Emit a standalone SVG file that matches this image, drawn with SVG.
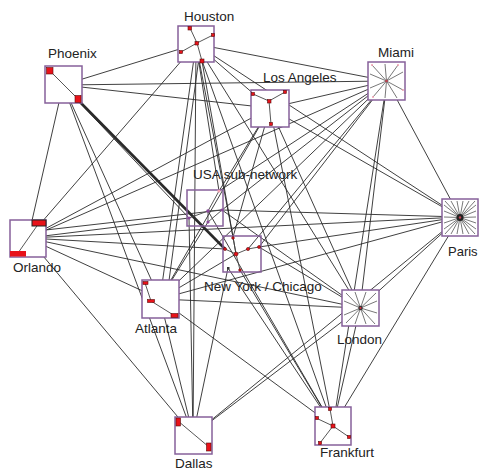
<svg xmlns="http://www.w3.org/2000/svg" width="480" height="472" viewBox="0 0 480 472">
<style>
.e{stroke:#2a2a2a;stroke-width:0.9;fill:none}
.tk{stroke:#2a2a2a;stroke-width:2.6;fill:none}
.box{fill:#fff;stroke:#86609a;stroke-width:1.5}
.open{fill:none;stroke:#86609a;stroke-width:1.5}
.in{stroke:#444;stroke-width:0.9;fill:none}
.ray{stroke:#555;stroke-width:0.8;fill:none}
.p{fill:#e8121a;stroke:#5a0a0a;stroke-width:0.6}
.pp{fill:#8a4a9a;stroke:none}
.pk{fill:#f0a0b0;stroke:none}
.lbl{font-family:"Liberation Sans",Arial,sans-serif;font-size:13.5px;fill:#222}
</style>
<rect width="480" height="472" fill="#fff"/>
<g id="edges">
<line class="e" x1="196" y1="44" x2="63" y2="85"/>
<line class="e" x1="196" y1="44" x2="387" y2="81"/>
<line class="e" x1="196" y1="44" x2="270" y2="108"/>
<line class="e" x1="196" y1="44" x2="28" y2="238"/>
<line class="e" x1="196" y1="44" x2="160" y2="299"/>
<line class="e" x1="200" y1="50" x2="166" y2="303"/>
<line class="e" x1="196" y1="44" x2="219" y2="191"/>
<line class="e" x1="196" y1="44" x2="233" y2="237"/>
<line class="e" x1="200" y1="50" x2="236" y2="254"/>
<line class="e" x1="196" y1="44" x2="360" y2="308"/>
<line class="e" x1="196" y1="44" x2="460" y2="217"/>
<line class="e" x1="196" y1="44" x2="333" y2="426"/>
<line class="e" x1="196" y1="44" x2="193" y2="435"/>
<line class="e" x1="63" y1="85" x2="387" y2="81"/>
<line class="e" x1="63" y1="85" x2="270" y2="108"/>
<line class="e" x1="63" y1="85" x2="28" y2="238"/>
<line class="e" x1="63" y1="85" x2="160" y2="299"/>
<line class="e" x1="63" y1="85" x2="193" y2="435"/>
<line class="tk" x1="78" y1="100" x2="225" y2="249"/>
<line class="e" x1="63" y1="85" x2="189" y2="218"/>
<line class="e" x1="387" y1="81" x2="270" y2="108"/>
<line class="e" x1="387" y1="81" x2="28" y2="238"/>
<line class="e" x1="387" y1="81" x2="219" y2="191"/>
<line class="e" x1="387" y1="81" x2="222" y2="210"/>
<line class="e" x1="387" y1="81" x2="259" y2="247"/>
<line class="e" x1="387" y1="81" x2="248" y2="249"/>
<line class="e" x1="387" y1="81" x2="160" y2="299"/>
<line class="e" x1="387" y1="81" x2="460" y2="217"/>
<line class="e" x1="387" y1="81" x2="360" y2="308"/>
<line class="e" x1="387" y1="81" x2="333" y2="426"/>
<line class="e" x1="270" y1="108" x2="28" y2="238"/>
<line class="e" x1="270" y1="108" x2="219" y2="191"/>
<line class="e" x1="270" y1="108" x2="160" y2="299"/>
<line class="e" x1="270" y1="108" x2="233" y2="237"/>
<line class="e" x1="270" y1="108" x2="360" y2="308"/>
<line class="e" x1="270" y1="108" x2="460" y2="217"/>
<line class="e" x1="270" y1="108" x2="333" y2="426"/>
<line class="e" x1="28" y1="238" x2="189" y2="218"/>
<line class="e" x1="28" y1="238" x2="225" y2="249"/>
<line class="e" x1="28" y1="238" x2="160" y2="299"/>
<line class="e" x1="28" y1="238" x2="360" y2="308"/>
<line class="e" x1="28" y1="238" x2="460" y2="217"/>
<line class="e" x1="28" y1="232" x2="222" y2="210"/>
<line class="e" x1="28" y1="238" x2="193" y2="435"/>
<line class="e" x1="460" y1="217" x2="222" y2="210"/>
<line class="e" x1="460" y1="217" x2="259" y2="247"/>
<line class="e" x1="460" y1="217" x2="160" y2="299"/>
<line class="e" x1="460" y1="217" x2="360" y2="308"/>
<line class="e" x1="460" y1="217" x2="333" y2="426"/>
<line class="e" x1="460" y1="217" x2="193" y2="435"/>
<line class="e" x1="208" y1="222" x2="160" y2="299"/>
<line class="e" x1="208" y1="211" x2="333" y2="426"/>
<line class="e" x1="222" y1="210" x2="360" y2="308"/>
<line class="e" x1="189" y1="218" x2="193" y2="435"/>
<line class="e" x1="236" y1="254" x2="160" y2="299"/>
<line class="e" x1="259" y1="247" x2="360" y2="308"/>
<line class="e" x1="240" y1="270" x2="333" y2="426"/>
<line class="e" x1="228" y1="268" x2="333" y2="426"/>
<line class="e" x1="228" y1="268" x2="193" y2="435"/>
<line class="e" x1="160" y1="299" x2="360" y2="308"/>
<line class="e" x1="160" y1="299" x2="333" y2="426"/>
<line class="e" x1="160" y1="299" x2="193" y2="435"/>
<line class="e" x1="360" y1="308" x2="333" y2="426"/>
<line class="e" x1="360" y1="308" x2="193" y2="435"/>
</g>
<g id="houston">
<rect class="box" x="178" y="26" width="36" height="36"/>
<polyline class="in" points="179,53 181,52 197,43 213,35"/>
<polyline class="in" points="190,28 197,43 202,61"/>
<rect class="p" x="188" y="26.5" width="3.5" height="3.5"/>
<rect class="p" x="211.5" y="33.5" width="3" height="3"/>
<rect class="p" x="195" y="41.5" width="3.5" height="3.5"/>
<rect class="p" x="179.5" y="50.5" width="3" height="3"/>
<rect class="p" x="200" y="59" width="4" height="4"/>
<text class="lbl" x="184" y="21">Houston</text>
</g>
<g id="phoenix">
<rect class="box" x="45" y="66" width="37" height="37"/>
<line class="in" x1="50" y1="71" x2="78" y2="99"/>
<rect class="p" x="46.5" y="67.5" width="6.5" height="6.5"/>
<rect class="p" x="75" y="95.5" width="6" height="7"/>
<text class="lbl" x="48" y="58">Phoenix</text>
</g>
<g id="losangeles">
<rect class="box" x="251" y="90" width="38" height="37"/>
<polyline class="in" points="253,94 269,101 285,92"/>
<line class="in" x1="269" y1="101" x2="271" y2="124"/>
<rect class="p" x="251.5" y="92.5" width="3" height="3"/>
<rect class="p" x="283.5" y="90.5" width="3" height="3"/>
<rect class="p" x="267.5" y="99.5" width="3.5" height="3.5"/>
<rect class="p" x="269.5" y="122.5" width="3" height="3"/>
<text class="lbl" x="263" y="82">Los Angeles</text>
</g>
<g id="miami">
<rect class="box" x="368" y="62" width="37" height="38"/>
<g class="ray">
<line x1="386.5" y1="81" x2="372" y2="65"/>
<line x1="386.5" y1="81" x2="385" y2="64"/>
<line x1="386.5" y1="81" x2="398" y2="65"/>
<line x1="386.5" y1="81" x2="403" y2="72"/>
<line x1="386.5" y1="81" x2="403" y2="90"/>
<line x1="386.5" y1="81" x2="397" y2="98"/>
<line x1="386.5" y1="81" x2="385" y2="98"/>
<line x1="386.5" y1="81" x2="373" y2="97"/>
<line x1="386.5" y1="81" x2="370" y2="88"/>
<line x1="386.5" y1="81" x2="370" y2="74"/>
</g>
<circle class="pk" cx="372" cy="65" r="1"/><circle class="pk" cx="398" cy="65" r="1"/><circle class="pk" cx="403" cy="90" r="1"/><circle class="pk" cx="373" cy="97" r="1"/>
<circle cx="386.5" cy="81" r="1.3" fill="#c04050"/>
<text class="lbl" x="378" y="57">Miami</text>
</g>
<g id="usa">
<rect class="open" x="187" y="190" width="36" height="36"/>
<polyline class="in" points="189,218 208,211 222,210"/>
<polyline class="in" points="219,191 208,211 208,222 222,210"/>
<circle class="pk" cx="219" cy="191" r="1.6"/>
<circle class="pp" cx="208" cy="211" r="1.8"/>
<circle class="pp" cx="222" cy="210" r="1.6"/>
<circle class="pp" cx="189" cy="218" r="1.6"/>
<circle class="pp" cx="208" cy="222" r="1.6"/>
<text class="lbl" x="193" y="179">USA sub-network</text>
</g>
<g id="newyork">
<rect class="open" x="223" y="236" width="38" height="36"/>
<polyline class="in" points="233,237 236,254 248,249 259,247"/>
<polyline class="in" points="225,249 236,254 240,270"/>
<circle class="p" cx="233" cy="238" r="1.3"/>
<circle class="p" cx="225" cy="249" r="1.5"/>
<circle class="p" cx="236" cy="254" r="2"/>
<circle class="p" cx="248" cy="249" r="1.6"/>
<circle class="p" cx="259" cy="247" r="1.5"/>
<rect x="227" y="267" width="2.5" height="2.5" fill="#333"/>
<circle class="p" cx="240" cy="270" r="1.3"/>
<text class="lbl" x="204" y="291">New York / Chicago</text>
</g>
<g id="orlando">
<rect class="box" x="10" y="220" width="36" height="37"/>
<line class="in" x1="18" y1="253" x2="39" y2="223"/>
<rect x="32" y="220" width="14" height="6" fill="#e8121a" stroke="#222" stroke-width="1"/>
<rect x="10" y="251" width="16" height="5.5" fill="#e8121a"/>
<text class="lbl" x="13" y="272">Orlando</text>
</g>
<g id="paris">
<rect class="box" x="442" y="199" width="36" height="37"/>
<g class="ray">
<line x1="460" y1="217.5" x2="445" y2="201"/><line x1="460" y1="217.5" x2="451" y2="201"/><line x1="460" y1="217.5" x2="457" y2="201"/><line x1="460" y1="217.5" x2="463" y2="201"/><line x1="460" y1="217.5" x2="469" y2="201"/><line x1="460" y1="217.5" x2="475" y2="201"/>
<line x1="460" y1="217.5" x2="476" y2="205"/><line x1="460" y1="217.5" x2="476" y2="211"/><line x1="460" y1="217.5" x2="476" y2="217"/><line x1="460" y1="217.5" x2="476" y2="223"/><line x1="460" y1="217.5" x2="476" y2="229"/>
<line x1="460" y1="217.5" x2="475" y2="234"/><line x1="460" y1="217.5" x2="469" y2="234"/><line x1="460" y1="217.5" x2="463" y2="234"/><line x1="460" y1="217.5" x2="457" y2="234"/><line x1="460" y1="217.5" x2="451" y2="234"/><line x1="460" y1="217.5" x2="445" y2="234"/>
<line x1="460" y1="217.5" x2="444" y2="229"/><line x1="460" y1="217.5" x2="444" y2="223"/><line x1="460" y1="217.5" x2="444" y2="217"/><line x1="460" y1="217.5" x2="444" y2="211"/><line x1="460" y1="217.5" x2="444" y2="205"/>
</g>
<circle cx="460" cy="217.5" r="3.5" fill="#222"/>
<circle cx="460" cy="217.5" r="1.2" fill="#c04050"/>
<text class="lbl" x="448" y="256" style="font-size:13px">Paris</text>
</g>
<g id="atlanta">
<rect class="box" x="142" y="280" width="37" height="38"/>
<polyline class="in" points="145,283 151,301 175,316"/>
<rect class="p" x="143" y="281.5" width="5" height="3"/>
<rect class="p" x="147.5" y="299.5" width="7" height="3"/>
<rect class="p" x="171" y="313.5" width="7" height="4"/>
<text class="lbl" x="135" y="333">Atlanta</text>
</g>
<g id="london">
<rect class="box" x="342" y="290" width="37" height="36"/>
<g class="ray">
<line x1="360.5" y1="308" x2="346" y2="293"/><line x1="360.5" y1="308" x2="355" y2="292"/><line x1="360.5" y1="308" x2="366" y2="292"/><line x1="360.5" y1="308" x2="376" y2="293"/>
<line x1="360.5" y1="308" x2="377" y2="301"/><line x1="360.5" y1="308" x2="377" y2="313"/><line x1="360.5" y1="308" x2="375" y2="324"/><line x1="360.5" y1="308" x2="366" y2="324"/>
<line x1="360.5" y1="308" x2="355" y2="324"/><line x1="360.5" y1="308" x2="346" y2="323"/><line x1="360.5" y1="308" x2="344" y2="315"/><line x1="360.5" y1="308" x2="344" y2="301"/>
</g>
<circle cx="360.5" cy="308" r="2.2" fill="#333"/>
<circle cx="360.5" cy="308" r="1" fill="#e03040"/>
<text class="lbl" x="337" y="344">London</text>
</g>
<g id="dallas">
<rect class="box" x="175" y="417" width="37" height="37"/>
<line class="in" x1="178" y1="421" x2="209" y2="447"/>
<rect class="p" x="176" y="418" width="4.5" height="8"/>
<rect class="p" x="206.5" y="443" width="4.5" height="8"/>
<text class="lbl" x="175" y="468">Dallas</text>
</g>
<g id="frankfurt">
<rect class="box" x="315" y="407" width="36" height="38"/>
<polyline class="in" points="330,409 333,426 320,443"/>
<polyline class="in" points="316,418 333,426 349,437"/>
<rect class="p" x="328.5" y="407.5" width="3" height="3"/>
<rect class="p" x="315.5" y="416.5" width="3" height="3"/>
<rect class="p" x="331" y="424" width="4" height="4"/>
<rect class="p" x="347.5" y="435.5" width="3" height="3"/>
<rect class="p" x="318.5" y="441.5" width="3" height="3"/>
<text class="lbl" x="320" y="457">Frankfurt</text>
</g>
</svg>
